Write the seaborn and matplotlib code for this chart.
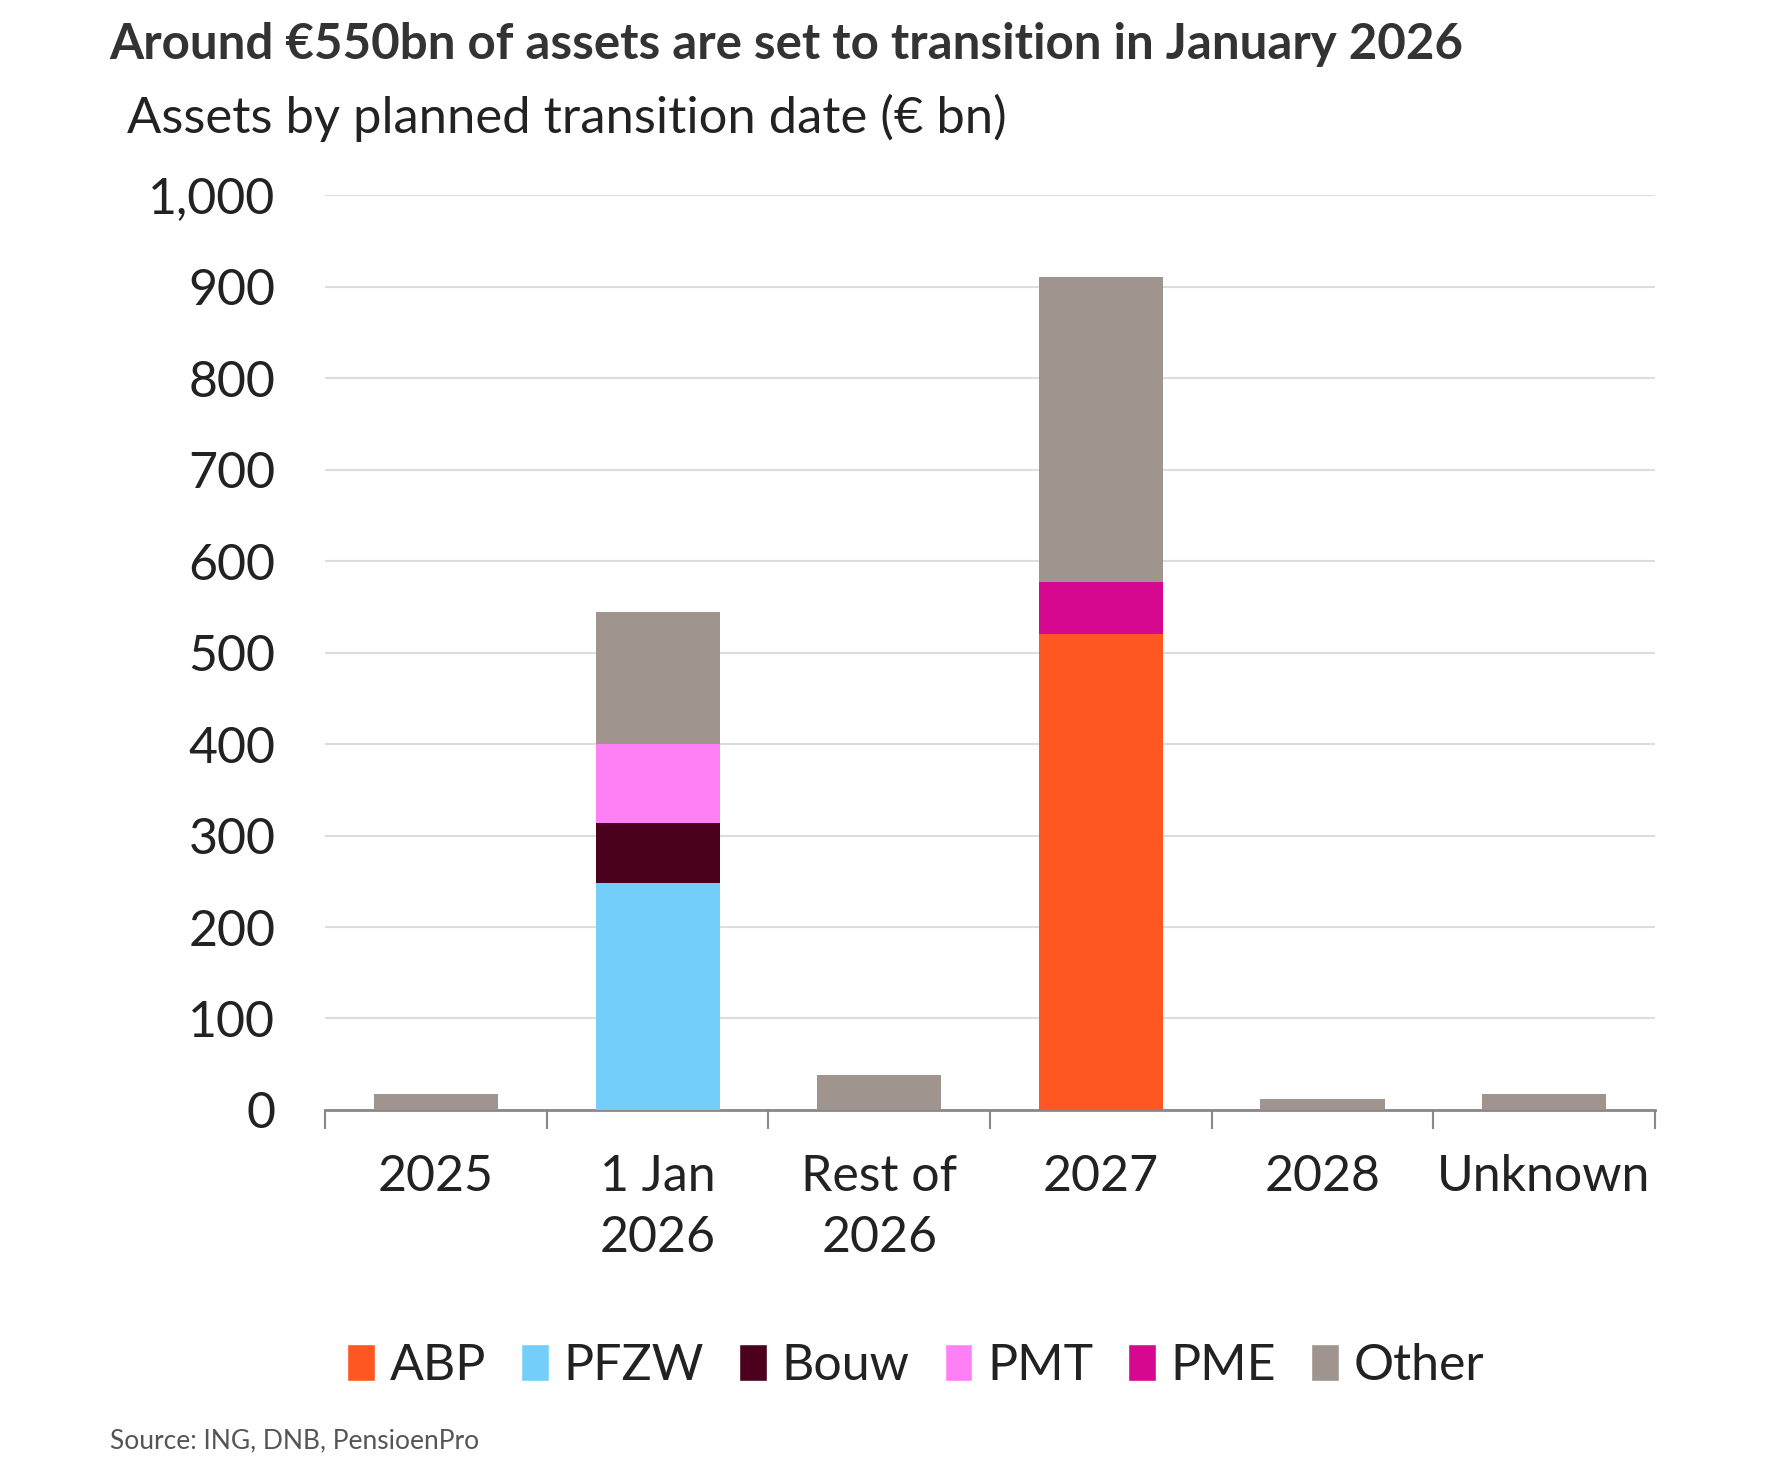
import seaborn as sns
import matplotlib.pyplot as plt
import numpy as np
from matplotlib.patches import Patch

categories = ['2025', '1 Jan\n2026', 'Rest of\n2026', '2027', '2028', 'Unknown']
series = ['ABP', 'PFZW', 'Bouw', 'PMT', 'PME', 'Other']
abp = [0, 0, 0, 520, 0, 0]
pfzw = [0, 248, 0, 0, 0, 0]
bouw = [0, 66, 0, 0, 0, 0]
pmt = [0, 86, 0, 0, 0, 0]
pme = [0, 0, 0, 57, 0, 0]
other = [17, 144, 38, 334, 12, 17]
colors = ['#ff5722', '#73cff9', '#4b001e', '#ff80f5', '#d6088f', '#a0958e']

sns.set_theme(style='white')
plt.rcParams['font.family'] = ['Lato', 'DejaVu Sans']

fig = plt.figure(figsize=(17.68, 14.78), dpi=100)
ax = fig.add_axes([0.184, 0.249, 0.752, 0.619])

bottom = np.zeros(len(categories))
for name, vals, col in zip(series, [abp, pfzw, bouw, pmt, pme, other], colors):
    sns.barplot(x=categories, y=vals, bottom=bottom, color=col, width=0.56,
                saturation=1, linewidth=0, ax=ax, zorder=3)
    bottom += np.array(vals)

ax.set_ylim(0, 1000)
ax.set_xlim(-0.5, 5.5)
ax.set_yticks(range(0, 1001, 100))
ax.set_yticklabels([f'{v:,}' for v in range(0, 1001, 100)])
ax.yaxis.grid(True, color='#dddddd', linewidth=1.5, zorder=0)
ax.set_axisbelow(True)
for s in ['top', 'right', 'left']:
    ax.spines[s].set_visible(False)
ax.spines['bottom'].set_color('#888888')
ax.spines['bottom'].set_linewidth(2)
ax.set_xticks(np.arange(-0.5, 6, 1), minor=True)
ax.tick_params(axis='x', which='minor', bottom=True, length=14, width=1.5, color='#888888')
ax.tick_params(axis='x', which='major', bottom=True, length=0, pad=32, labelsize=36,
               labelcolor='#222222')
for lbl in ax.get_xticklabels():
    lbl.set_linespacing(1.4)
ax.tick_params(axis='y', length=0, pad=36, labelsize=36, labelcolor='#222222')
ax.set_xlabel('')
ax.set_ylabel('')

fig.text(0.062, 0.970, 'Around €550bn of assets are set to transition in January 2026',
         fontsize=35.5, fontweight='bold', color='#333333', va='center', ha='left')
fig.text(0.072, 0.92, 'Assets by planned transition date (€ bn)',
         fontsize=36.5, color='#222222', va='center', ha='left')
fig.text(0.062, 0.025, 'Source: ING, DNB, PensioenPro',
         fontsize=19, color='#555555', va='center', ha='left')

handles = [Patch(facecolor=c, label=n) for n, c in zip(series, colors)]
fig.legend(handles=handles, loc='center', bbox_to_anchor=(0.518, 0.076), ncol=6,
           frameon=False, fontsize=36, handlelength=0.55, handleheight=0.75,
           handletextpad=0.3, columnspacing=0.7, labelcolor='#222222')

fig.savefig('out.png', dpi=100)
